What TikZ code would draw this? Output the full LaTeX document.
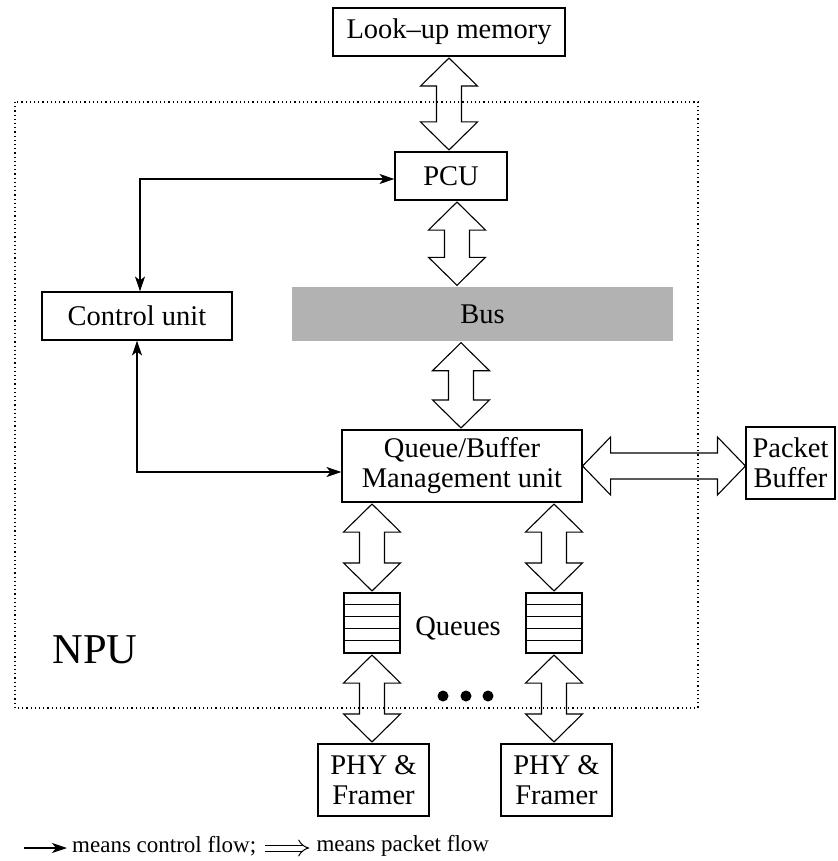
\documentclass[tikz,border=0pt]{standalone}
\usepackage{fontspec}
\setmainfont{Liberation Serif}
\usetikzlibrary{arrows.meta,calc,positioning}

\newcommand{\blocksize}{\fontsize{28.5}{30}\selectfont}
\newcommand{\notesize}{\fontsize{23}{26}\selectfont}

% hollow double arrow for packet flow, upper end #1, lower end #2
\newcommand{\vflow}[2]{%
  \draw[flow] let \p1=#1, \p2=#2 in
    (\x1,\y1-1.5pt) -- (\x1+28.5pt,\y1-29.5pt) -- (\x1+12.5pt,\y1-29.5pt)
    -- (\x1+12.5pt,\y2+29.5pt) -- (\x1+28.5pt,\y2+29.5pt) -- (\x1,\y2+1.5pt)
    -- (\x1-28.5pt,\y2+29.5pt) -- (\x1-12.5pt,\y2+29.5pt)
    -- (\x1-12.5pt,\y1-29.5pt) -- (\x1-28.5pt,\y1-29.5pt) -- cycle;}
% same, left end #1, right end #2
\newcommand{\hflow}[2]{%
  \draw[flow] let \p1=#1, \p2=#2 in
    (\x1,\y1) -- (\x1+28pt,\y1+29pt) -- (\x1+28pt,\y1+13pt)
    -- (\x2-28pt,\y1+13pt) -- (\x2-28pt,\y1+29pt) -- (\x2,\y1)
    -- (\x2-28pt,\y1-29pt) -- (\x2-28pt,\y1-13pt)
    -- (\x1+28pt,\y1-13pt) -- (\x1+28pt,\y1-29pt) -- cycle;}

\tikzset{
  box/.style={draw, line width=1.1pt, inner sep=0pt, align=center, font=\blocksize},
  queue/.style={draw, line width=1.1pt, minimum width=56pt, minimum height=60pt, inner sep=0pt},
  flow/.style={line width=1.1pt, line join=miter},
  ctl/.style={line width=1.2pt, >={Stealth[length=15pt,width=10pt,inset=4pt]}},
  npu/.style={line width=1.1pt, dash pattern=on 1.2pt off 3pt},
}

\begin{document}
\begin{tikzpicture}[x=1pt,y=-1pt]
  \useasboundingbox (0,0) rectangle (837,861);

  % NPU frame
  \draw[npu] (15,102) rectangle (698,708);
  \node[font=\fontsize{42.5}{46}\selectfont] (npulbl) at (95,650) {NPU};

  % blocks
  \node[box, minimum width=232pt, minimum height=48pt] (lookup) at (449,32) {Look--up memory};
  \node[box, minimum width=112pt, minimum height=48pt] (pcu) at (451,176) {PCU};
  \node[box, minimum width=190pt, minimum height=48pt] (ctrl) at (137,316) {Control unit};
  \node[fill=black!30, minimum width=381pt, minimum height=54pt, inner sep=0pt, font=\blocksize] (bus) at (482.5,314) {Bus};
  \node[box, minimum width=240pt, minimum height=72pt] (qb) at (462,466) {Queue/Buffer\\Management unit};
  \node[box, minimum width=89pt, minimum height=72pt] (pbuf) at (790.5,463) {Packet\\Buffer};

  % queues
  \node[queue] (q1) at (372,623) {};
  \node[queue] (q2) at (554,623) {};
  \foreach \q in {q1,q2}
    \foreach \i in {1,...,4}
      \draw[line width=1.1pt] ([yshift=-\i*12pt]\q.north west) -- ([yshift=-\i*12pt]\q.north east);
  \node[font=\blocksize] (qlbl) at (458,628) {Queues};
  \foreach \x in {443,466,488}
    \fill (\x,696) circle (5.5pt);

  \node[box, minimum width=111pt, minimum height=72pt] (phy1) at (373.5,780) {PHY \&\\Framer};
  \node[box, minimum width=111pt, minimum height=72pt] (phy2) at (556.5,780) {PHY \&\\Framer};

  % packet flow
  \vflow{(lookup.south)}{(pcu.north)}
  \vflow{([xshift=6pt]pcu.south)}{(bus.north)}
  \vflow{([xshift=-1pt]bus.south -| qb.north)}{(qb.north)}
  \vflow{(q1.north |- qb.south)}{(q1.north)}
  \vflow{(q2.north |- qb.south)}{(q2.north)}
  \vflow{(q1.south)}{(phy1.north)}
  \vflow{(q2.south)}{(phy2.north)}
  \hflow{(qb.east)}{(pbuf.west)}

  % control flow
  \draw[ctl,<->] ([yshift=-3pt]pcu.west) -| ([xshift=3pt]ctrl.north);
  \draw[ctl,<->] (ctrl.south) |- ([yshift=-6pt]qb.west);

  % legend
  \coordinate (legstart) at (24,848);
  \node[font=\notesize, anchor=west, inner sep=0pt] (legctl) at (72,846) {means control flow;};
  \draw[ctl,->] (legstart) -- ([xshift=-5pt]legctl.west |- legstart);
  \coordinate[right=9pt of legctl.east |- legstart] (pkta);
  \coordinate[right=44pt of pkta] (pktb);
  \draw[double, double distance=5pt, line width=1pt, -{Implies}] (pkta) -- (pktb);
  \node[font=\notesize, anchor=west, inner sep=0pt] (legpkt) at ([xshift=7pt]pktb |- legctl.west) {means packet flow};
\end{tikzpicture}
\end{document}
